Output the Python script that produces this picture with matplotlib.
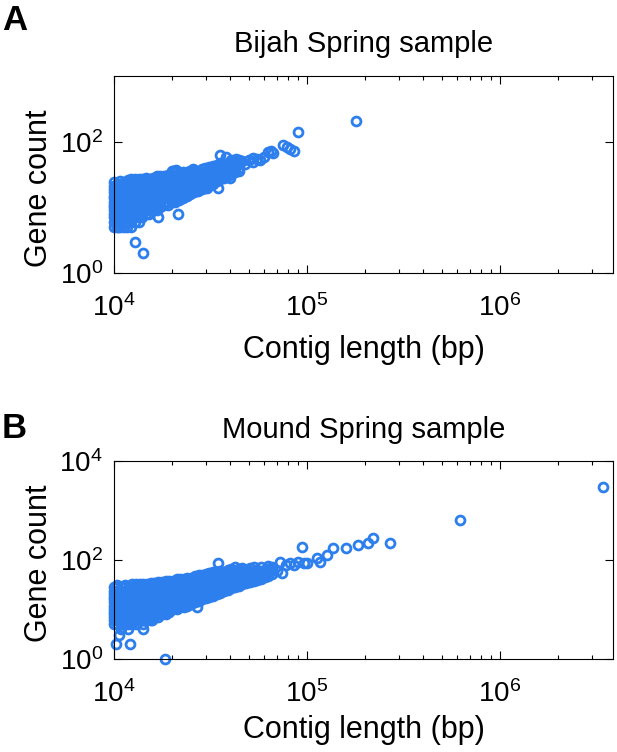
import numpy as np
import matplotlib
matplotlib.use('Agg')
import matplotlib.pyplot as plt
from matplotlib.ticker import LogLocator, NullLocator, NullFormatter

plt.rcParams['font.family'] = ['Liberation Sans', 'DejaVu Sans']
plt.rcParams['mathtext.fontset'] = 'custom'
plt.rcParams['mathtext.rm'] = 'Liberation Sans'
plt.rcParams['mathtext.it'] = 'Liberation Sans'
plt.rcParams['mathtext.bf'] = 'Liberation Sans:bold'
plt.rcParams['mathtext.default'] = 'regular'

blue = '#2c7fed'

# Bijah Spring: dense part, one contig-length bin per row with the gene counts in it
bijah_len = [10000, 10400, 10800, 11300, 11800, 12300, 12800, 13400, 14000, 14600,
             15200, 15900, 16600, 17400, 18200, 19000, 19900, 20800, 21800, 22800,
             23800, 24900, 26000, 27200, 28400, 29700, 31100, 32500, 34000, 35500,
             37100, 38800, 40600, 42400, 44300]
bijah_genes = [
    [5, 6, 7, 8, 9, 10, 11, 12, 14, 15, 17, 19, 21, 24],
    [5, 6, 7, 8, 9, 10, 11, 12, 14, 15, 17, 19, 21, 23],
    [5, 6, 7, 8, 9, 10, 11, 12, 14, 15, 17, 19, 22, 25],
    [5, 6, 7, 8, 9, 10, 11, 12, 14, 15, 17, 19, 21, 24],
    [6, 7, 8, 9, 10, 11, 12, 14, 15, 17, 19, 21, 24, 26],
    [5, 6, 7, 8, 9, 10, 11, 12, 14, 15, 17, 19, 21, 24, 27],
    [6, 7, 8, 9, 10, 11, 12, 14, 15, 17, 19, 21, 24, 27],
    [6, 7, 8, 9, 10, 11, 12, 14, 15, 17, 19, 21, 24, 27],
    [7, 8, 9, 10, 11, 12, 14, 15, 17, 19, 21, 24, 27],
    [8, 9, 10, 11, 12, 14, 15, 17, 19, 21, 24, 28],
    [8, 9, 10, 11, 12, 14, 15, 17, 19, 21, 24, 27],
    [9, 10, 11, 12, 14, 15, 17, 19, 21, 24, 28],
    [9, 10, 11, 12, 14, 15, 17, 19, 21, 24, 27, 30],
    [10, 11, 12, 14, 15, 17, 19, 21, 24, 27, 30],
    [11, 12, 14, 15, 17, 19, 21, 24, 27, 30],
    [11, 12, 14, 15, 17, 19, 21, 24, 27, 31],
    [12, 13, 15, 17, 19, 21, 24, 27, 30, 36],
    [12, 14, 15, 17, 19, 21, 24, 27, 31, 35],
    [13, 15, 17, 19, 21, 24, 27, 30, 33],
    [14, 16, 18, 20, 22, 25, 28, 31, 34],
    [15, 17, 19, 21, 24, 27, 30, 34],
    [16, 18, 20, 22, 25, 28, 31, 36],
    [17, 19, 21, 24, 27, 30, 34, 37],
    [18, 20, 22, 25, 28, 31, 35],
    [19, 21, 24, 27, 30, 34, 38],
    [20, 22, 25, 28, 31, 35, 39],
    [22, 24, 27, 30, 34, 38, 41],
    [23, 26, 29, 33, 37, 42],
    [25, 28, 31, 35, 39, 44],
    [27, 30, 34, 38, 43, 48],
    [28, 32, 36, 40, 46],
    [30, 34, 38, 43, 48],
    [32, 36, 41, 46, 52],
    [34, 38, 43, 49],
    [36, 40, 46, 53],
]
# Bijah Spring: separate contigs
bijah_len_single = [10500, 11700, 12800, 14100, 16900, 21400, 30200, 34600, 40000,
                    35400, 38000, 43000, 46000, 48000, 50000, 52500, 52500, 55000,
                    57000, 60000, 63000, 65000, 67000, 75000, 79000, 81600, 86000,
                    89600, 179000, 20200, 21000, 25700]
bijah_genes_single = [5, 5, 3, 2, 7, 8, 20, 20, 28,
                      62, 58, 55, 50, 45, 52, 49, 57, 55,
                      53, 58, 70, 72, 66, 88, 82, 78, 73,
                      142, 204, 36, 37, 38]

# Mound Spring: dense part
mound_len = [10000, 10400, 10900, 11400, 11900, 12400, 13000, 13600, 14200, 14800,
             15500, 16200, 16900, 17700, 18500, 19300, 20200, 21100, 22000, 23000,
             24000, 25100, 26200, 27400, 28600, 29900, 31200, 32600, 34100, 35600,
             37200, 38900, 40600, 42400, 44300, 46300, 48400, 50600, 52900, 55300,
             57800, 60400, 63100, 66000]
mound_genes = [
    [5, 6, 7, 8, 9, 10, 12, 14, 16, 18, 21, 24, 28],
    [5, 6, 7, 8, 9, 10, 12, 14, 16, 18, 21, 24, 28, 31],
    [4, 5, 6, 7, 8, 9, 10, 12, 14, 16, 18, 21, 24, 28],
    [5, 6, 7, 8, 9, 10, 12, 14, 16, 18, 21, 24, 28, 31],
    [5, 6, 7, 8, 9, 10, 12, 14, 16, 18, 21, 24, 28],
    [5, 6, 7, 8, 9, 10, 12, 14, 16, 18, 21, 24, 28, 32],
    [5, 6, 7, 8, 9, 10, 12, 14, 16, 18, 21, 24, 28, 32],
    [6, 7, 8, 9, 10, 12, 14, 16, 18, 21, 24, 28, 33],
    [5, 6, 7, 8, 9, 10, 12, 14, 16, 18, 21, 24, 28, 33],
    [6, 7, 8, 9, 10, 12, 14, 16, 18, 21, 24, 28, 32],
    [6, 7, 8, 9, 10, 12, 14, 16, 18, 21, 24, 28, 34],
    [7, 8, 9, 10, 12, 14, 16, 18, 21, 24, 28, 32, 35],
    [7, 8, 9, 10, 12, 14, 16, 18, 21, 24, 28, 32, 36],
    [8, 9, 10, 12, 14, 16, 18, 21, 24, 28, 32, 36],
    [8, 9, 10, 12, 14, 16, 18, 21, 24, 28, 32, 37],
    [9, 10, 12, 14, 16, 18, 21, 24, 28, 32, 38],
    [10, 12, 14, 16, 18, 21, 24, 28, 32, 37],
    [10, 12, 14, 16, 18, 21, 24, 28, 32, 38, 41],
    [11, 12, 14, 16, 18, 21, 24, 28, 32, 37, 42],
    [11, 13, 15, 17, 19, 22, 25, 29, 33, 38, 42],
    [12, 14, 16, 18, 21, 24, 28, 32, 37, 43],
    [13, 15, 17, 19, 22, 25, 29, 33, 38, 44],
    [14, 16, 18, 21, 24, 28, 32, 37, 43, 47],
    [15, 17, 19, 22, 25, 29, 33, 38, 44, 50],
    [16, 18, 21, 24, 28, 32, 37, 43, 50],
    [17, 19, 22, 25, 29, 33, 38, 44, 52],
    [18, 21, 24, 28, 32, 37, 43, 50, 55],
    [19, 22, 25, 29, 33, 38, 44, 50, 58],
    [21, 24, 28, 32, 37, 43, 50, 58],
    [22, 25, 29, 33, 38, 44, 50, 60],
    [24, 28, 32, 37, 43, 50, 58],
    [25, 29, 33, 38, 44, 52, 62],
    [27, 31, 36, 42, 48, 56, 65],
    [29, 33, 38, 44, 51, 60],
    [30, 35, 41, 48, 56, 66],
    [32, 37, 43, 50, 58, 70],
    [34, 40, 46, 54, 63],
    [36, 42, 48, 57, 68],
    [38, 44, 52, 60, 73],
    [40, 47, 55, 64],
    [42, 50, 60, 72],
    [45, 53, 62],
    [48, 56, 66, 75],
    [52, 62, 72],
]
# Mound Spring: separate contigs
mound_len_single = [10300, 10650, 11800, 12100, 14200, 15700, 18400, 26800, 34700,
                    42400, 70000, 72500, 74000, 78000, 81600, 86000, 90000, 94000,
                    96000, 100000, 112000, 117000, 127000, 137000, 159000, 184000,
                    208000, 220000, 270000, 620000, 3400000]
mound_genes_single = [2, 3, 4, 2, 4, 6, 1, 11, 87,
                      73, 60, 92, 55, 80, 85, 78, 90, 186,
                      85, 88, 108, 92, 126, 172, 172, 200,
                      216, 275, 216, 645, 2960]


def flatten(lengths, genes, len_single, genes_single):
    x = [L for L, g in zip(lengths, genes) for _ in g] + list(len_single)
    y = [c for g in genes for c in g] + list(genes_single)
    return np.array(x), np.array(y)


def style_axes(ax, ymax, yticks):
    ax.set_xscale('log')
    ax.set_yscale('log')
    ax.set_xlim(1e4, 3.85e6)
    ax.set_ylim(1, ymax)
    ax.set_xticks([1e4, 1e5, 1e6])
    ax.xaxis.set_minor_locator(LogLocator(base=10, subs=np.arange(2, 10)))
    ax.xaxis.set_minor_formatter(NullFormatter())
    ax.set_yticks(yticks)
    ax.yaxis.set_minor_locator(NullLocator())
    ax.tick_params(which='both', direction='in', top=True, right=True,
                   width=0.8, labelsize=20)
    ax.tick_params(which='major', length=6)
    ax.tick_params(which='minor', length=3)
    ax.tick_params(axis='x', pad=15)
    ax.tick_params(axis='y', pad=8)
    for s in ax.spines.values():
        s.set_linewidth(0.8)


fig = plt.figure(figsize=(6.17, 7.52), dpi=100)
ax1 = fig.add_axes([0.1848, 0.6370, 0.8087, 0.2620])
ax2 = fig.add_axes([0.1848, 0.1237, 0.8087, 0.2633])

x, y = flatten(bijah_len, bijah_genes, bijah_len_single, bijah_genes_single)
ax1.plot(x, y, 'o', mfc='none', mec=blue, ms=6.4, mew=2, clip_on=False)
style_axes(ax1, 1000, [1, 100])
ax1.set_xlabel('Contig length (bp)', fontsize=22)
ax1.set_ylabel('Gene count', fontsize=22)
ax1.xaxis.set_label_coords(0.5, -0.315)
ax1.yaxis.set_label_coords(-0.12, 0.43)
ax1.text(0.5, 1.122, 'Bijah Spring sample', transform=ax1.transAxes,
         ha='center', va='baseline', fontsize=21)

x, y = flatten(mound_len, mound_genes, mound_len_single, mound_genes_single)
ax2.plot(x, y, 'o', mfc='none', mec=blue, ms=6.4, mew=2, clip_on=False)
style_axes(ax2, 1e4, [1, 100, 1e4])
ax2.set_xlabel('Contig length (bp)', fontsize=22)
ax2.set_ylabel('Gene count', fontsize=22)
ax2.xaxis.set_label_coords(0.5, -0.285)
ax2.yaxis.set_label_coords(-0.12, 0.485)
ax2.text(0.5, 1.115, 'Mound Spring sample', transform=ax2.transAxes,
         ha='center', va='baseline', fontsize=21)

fig.text(2 / 617, 1 - 30 / 752, 'A', fontsize=25, fontweight='bold', va='baseline')
fig.text(2 / 617, 1 - 438 / 752, 'B', fontsize=25, fontweight='bold', va='baseline')

fig.savefig('out.png', dpi=100)
